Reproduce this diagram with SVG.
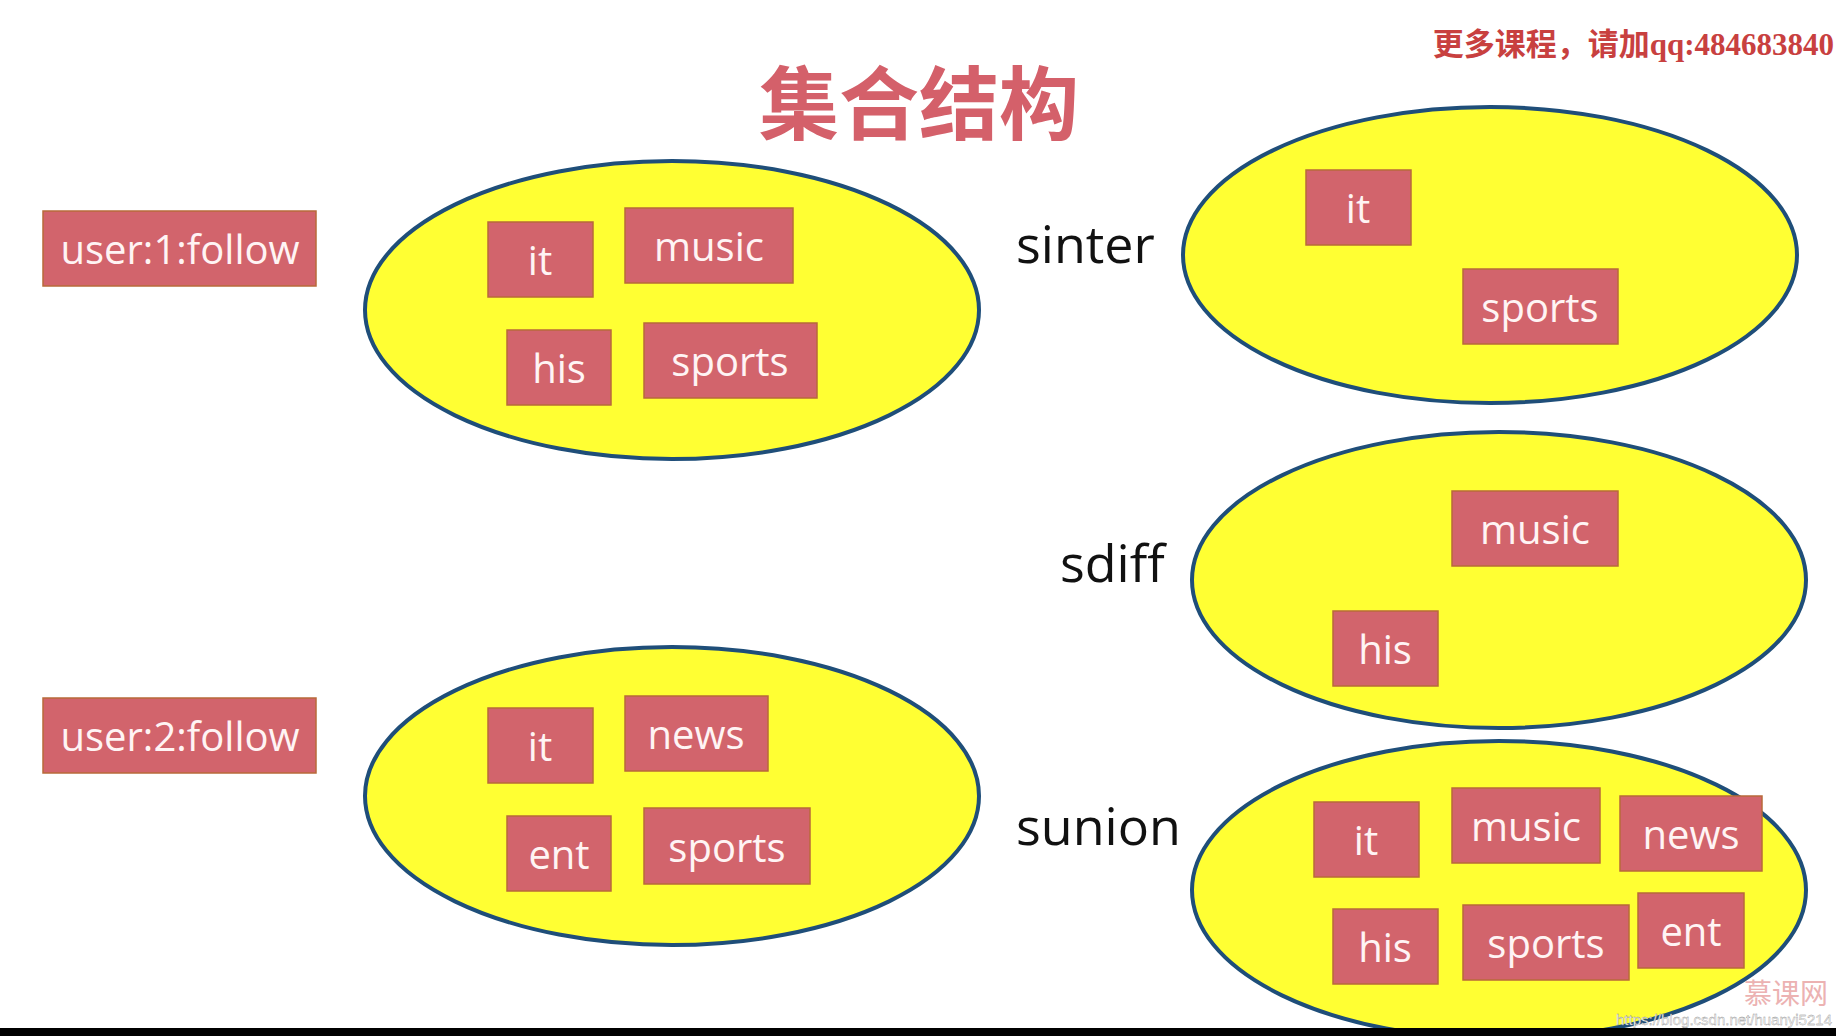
<svg xmlns="http://www.w3.org/2000/svg" width="1836" height="1036" viewBox="0 0 1836 1036">
<style>
.ell{fill:#ffff33;stroke:#1f4e79;stroke-width:4}
.box{fill:#d2646c;stroke:#b86a3a;stroke-width:1.5}
.bt{font-family:"Open Sans","Noto Sans",sans-serif;font-size:40px;fill:#fff4f4;text-anchor:middle;dominant-baseline:central}
.op{font-family:"Open Sans","Noto Sans",sans-serif;font-size:52px;fill:#111}
</style>
<rect width="1836" height="1036" fill="#fff"/>
<text x="919" y="133" text-anchor="middle" font-family="'Noto Sans CJK SC',sans-serif" font-weight="bold" font-size="80" fill="#d4606a">集合结构</text>
<text x="1834" y="55" text-anchor="end" font-family="'Liberation Serif','Noto Sans CJK SC',serif" font-weight="bold" font-size="31" fill="#c8403f">更多课程，请加qq:484683840</text>

<g id="user1"><rect class="box" x="43" y="211" width="273" height="75"/><text class="bt" x="180" y="248">user:1:follow</text></g>
<g id="user2"><rect class="box" x="43" y="698" width="273" height="75"/><text class="bt" x="180" y="735">user:2:follow</text></g>

<g id="set1">
<ellipse class="ell" cx="672" cy="310" rx="307" ry="149"/>
<rect class="box" x="488" y="222" width="105" height="75"/><text class="bt" x="540" y="259">it</text>
<rect class="box" x="625" y="208" width="168" height="75"/><text class="bt" x="709" y="245">music</text>
<rect class="box" x="507" y="330" width="104" height="75"/><text class="bt" x="559" y="367">his</text>
<rect class="box" x="644" y="323" width="173" height="75"/><text class="bt" x="730" y="360">sports</text>
</g>
<g id="set2">
<ellipse class="ell" cx="672" cy="796" rx="307" ry="149"/>
<rect class="box" x="488" y="708" width="105" height="75"/><text class="bt" x="540" y="745">it</text>
<rect class="box" x="625" y="696" width="143" height="75"/><text class="bt" x="696" y="733">news</text>
<rect class="box" x="507" y="816" width="104" height="75"/><text class="bt" x="559" y="853">ent</text>
<rect class="box" x="644" y="808" width="166" height="76"/><text class="bt" x="727" y="846">sports</text>
</g>

<text class="op" x="1016" y="263">sinter</text>
<text class="op" x="1060" y="582">sdiff</text>
<text class="op" x="1016" y="845">sunion</text>

<g id="sinter">
<ellipse class="ell" cx="1490" cy="255" rx="307" ry="148"/>
<rect class="box" x="1306" y="170" width="105" height="75"/><text class="bt" x="1358" y="207">it</text>
<rect class="box" x="1463" y="269" width="155" height="75"/><text class="bt" x="1540" y="306">sports</text>
</g>
<g id="sdiff">
<ellipse class="ell" cx="1499" cy="580" rx="307" ry="148"/>
<rect class="box" x="1452" y="491" width="166" height="75"/><text class="bt" x="1535" y="528">music</text>
<rect class="box" x="1333" y="611" width="105" height="75"/><text class="bt" x="1385" y="648">his</text>
</g>
<g id="sunion">
<ellipse class="ell" cx="1499" cy="890" rx="307" ry="149"/>
<rect class="box" x="1314" y="802" width="105" height="75"/><text class="bt" x="1366" y="839">it</text>
<rect class="box" x="1452" y="788" width="148" height="75"/><text class="bt" x="1526" y="825">music</text>
<rect class="box" x="1620" y="796" width="142" height="75"/><text class="bt" x="1691" y="833">news</text>
<rect class="box" x="1333" y="909" width="105" height="75"/><text class="bt" x="1385" y="946">his</text>
<rect class="box" x="1463" y="905" width="166" height="75"/><text class="bt" x="1546" y="942">sports</text>
<rect class="box" x="1638" y="893" width="106" height="75"/><text class="bt" x="1691" y="930">ent</text>
</g>
<g id="connectors"/>
<text x="1828" y="1004" text-anchor="end" font-family="'Noto Sans CJK SC',sans-serif" font-size="28" fill="#e8a0a0" opacity="0.8">慕课网</text>
<text x="1832" y="1025" text-anchor="end" font-family="'Liberation Sans',sans-serif" font-size="15" fill="#f4f4f4" stroke="#888" stroke-width="0.3">https://blog.csdn.net/huanyi5214</text>
<rect x="0" y="1028" width="1836" height="8" fill="#000"/>
</svg>
